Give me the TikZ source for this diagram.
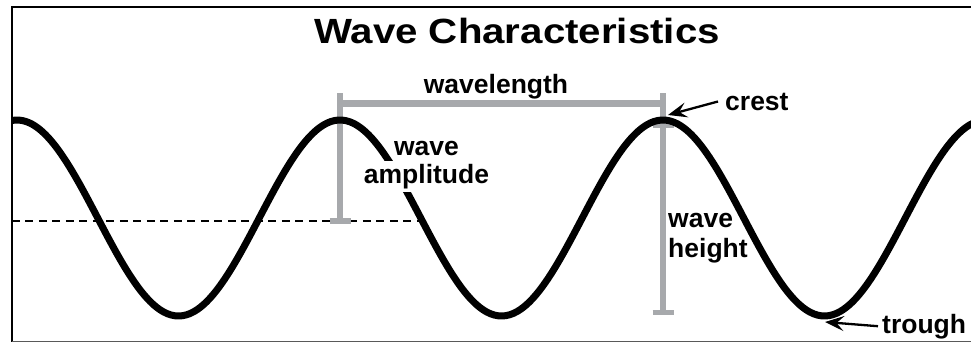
\documentclass[tikz,border=0pt]{standalone}
\usepackage{fontspec}
\setmainfont{Liberation Sans}
\usepackage{graphicx}
\usetikzlibrary{arrows.meta, positioning, calc}
\definecolor{bargray}{HTML}{A7A9AC}
\tikzset{
  wave/.style     = {line width=7pt, black, line join=round},
  midline/.style  = {line width=2pt, black, dash pattern=on 8pt off 5.5pt},
  dimbar/.style   = {line width=6.5pt, bargray},
  dimcap/.style   = {line width=5.5pt, bargray},
  pointer/.style  = {-{Stealth[length=19pt, width=15pt, inset=7.5pt]},
                     line width=2.3pt, black},
  tag/.style      = {font=\fontsize{26.5}{30}\selectfont\bfseries,
                     inner sep=0pt},
}

\begin{document}
\begin{tikzpicture}[x=1pt, y=-1pt]
    \useasboundingbox (0,0) rectangle (971,343);

    % --- frame ---
    \draw[line width=2pt] (971,6.7) -- (11.8,6.7) -- (11.8,341.5);
    \draw[line width=1.5pt, black!65] (11.8,341.5) -- (971,341.5);

    % --- reference points on the wave ---
    \coordinate (crestA) at (340,120);
    \coordinate (crestB) at (663,120);
    \coordinate (midL)   at (11.8,221);
    \coordinate (midR)   at (419,221);
    \coordinate (crestTip)  at (668,115);
    \coordinate (troughTip) at (825,322);

    % --- still water level ---
    \draw[midline] (midL) -- (midR);

    % --- measuring bars ---
    \draw[dimbar] ($(crestA)+(0,-27)$) -- ($(crestA)+(0,101)$);
    \draw[dimbar] ($(crestB)+(0,-27)$) -- ($(crestB)+(0,192.5)$);
    \draw[dimbar] ($(crestA)+(0,-16.5)$) -- ($(crestB)+(0,-16.5)$);
    \draw[dimcap] ($(crestA)+(-10.5,101)$) -- ++(21,0);
    \draw[dimcap] ($(crestB)+(-10.5,5.5)$) -- ++(21,0);
    \draw[dimcap] ($(crestB)+(-10.5,192.5)$) -- ++(21,0);

    % --- the wave ---
    \begin{scope}
      \clip (11.8,6.7) rectangle (971,341.5);
      \draw[wave] plot[domain=0:985, samples=260, smooth]
        (\x, {218-98*cos(1.114551*(\x-17))});
    \end{scope}

    % --- labels ---
    \node[anchor=base, inner sep=0pt] (title) at (517,43)
      {\scalebox{1.15}[1]{\fontsize{35}{38}\selectfont\bfseries Wave Characteristics}};
    \node[tag, anchor=base] (lambda) at (496,93) {wavelength};
    \node[tag, anchor=base] (ampTop) at (426.5,155) {wave};
    \node[tag, anchor=base, fill=white, inner ysep=3pt] (ampBot) at (426.5,183)
      {amplitude};
    \node[tag, anchor=base west] (hgtTop) at (668,227) {wave};
    \node[tag, anchor=base west] (hgtBot) at (668,257) {height};
    \node[tag, anchor=base west] (crestTag) at (725,110) {crest};
    \node[tag, anchor=base west] (troughTag) at (882,333) {trough};

    % --- pointers ---
    \draw[pointer] ([xshift=-7pt]crestTag.west) -- (crestTip);
    \draw[pointer] ([xshift=-4pt]troughTag.west) -- (troughTip);
\end{tikzpicture}
\end{document}
